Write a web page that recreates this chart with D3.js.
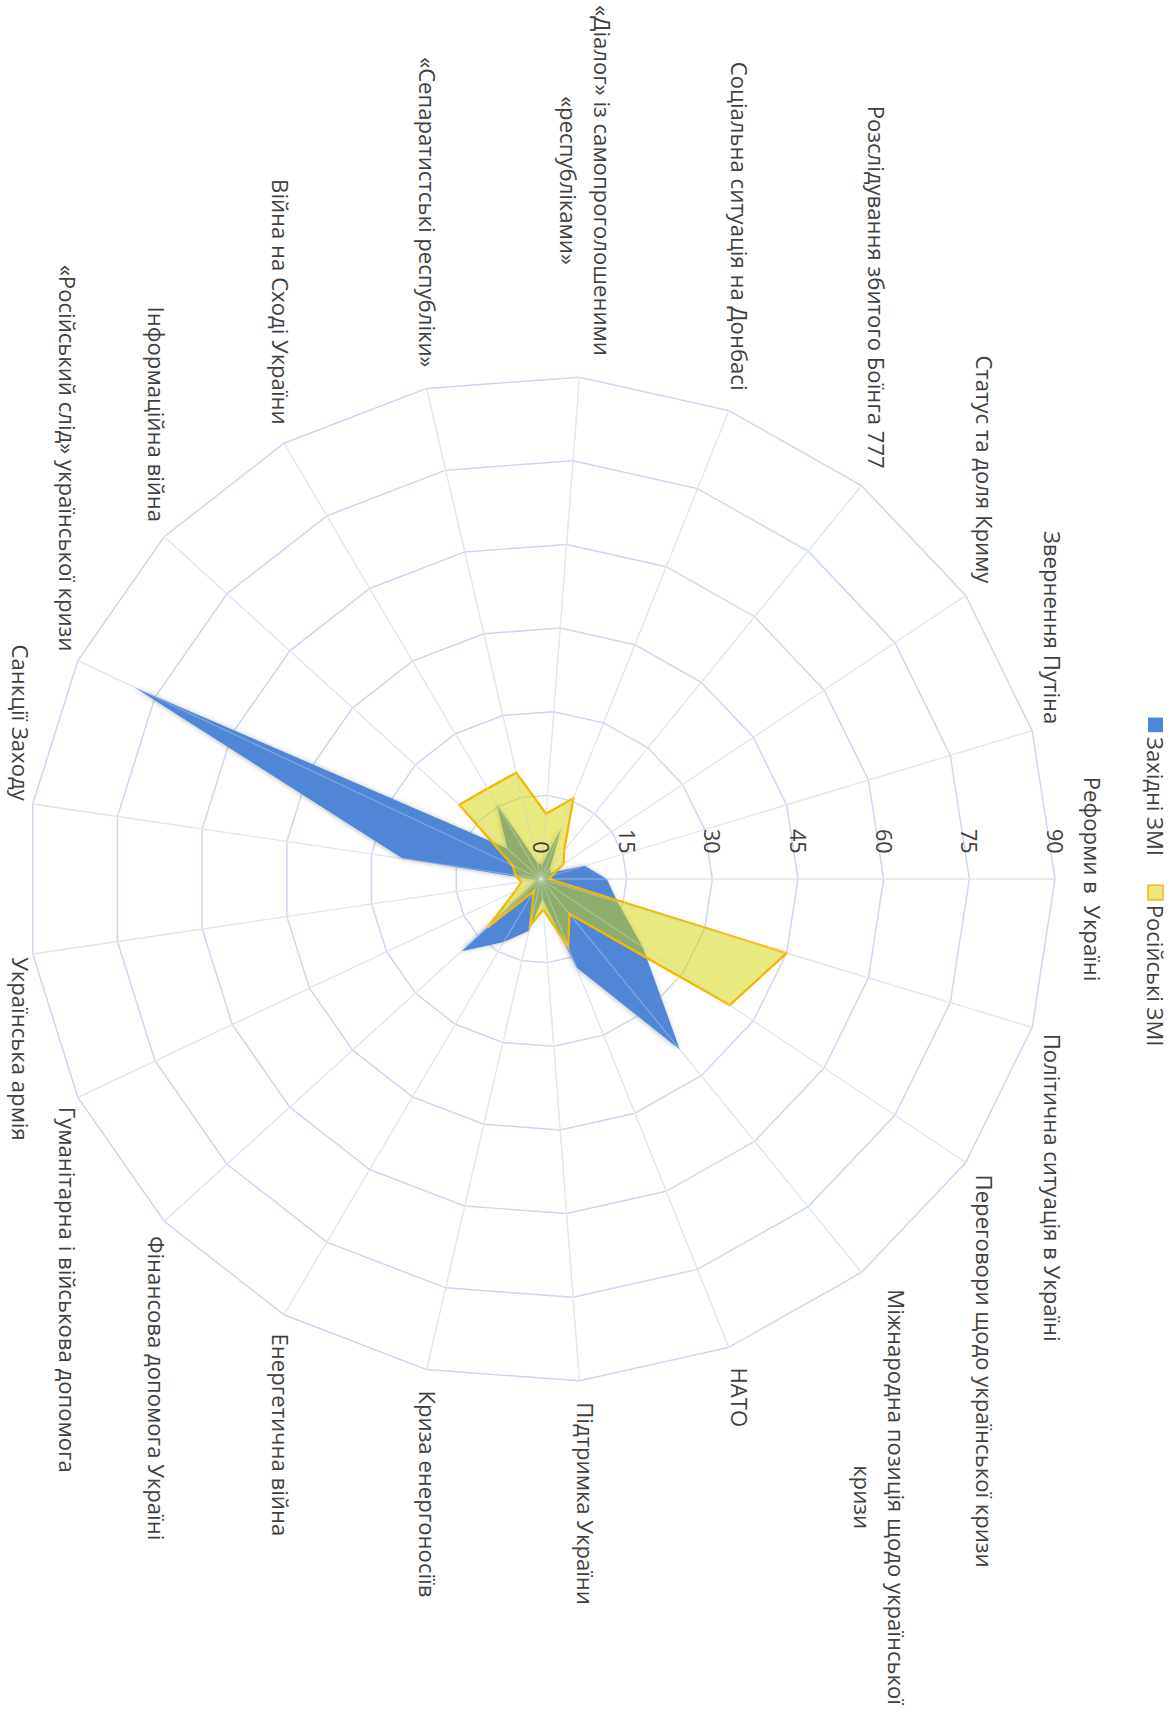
<!DOCTYPE html>
<html>
<head>
<meta charset="utf-8">
<script src="https://cdn.jsdelivr.net/npm/d3@7"></script>
<style>
  html, body { margin: 0; padding: 0; background: #fff; }
  svg text { font-family: 'Open Sans', 'DejaVu Sans', sans-serif; fill: #404040; white-space: pre; }
</style>
</head>
<body>
<div id="chart"></div>
<script>
// categories (multi-line labels are split into lines)
let categories = [
  ['Реформи в  Україні'],
  ['Політична ситуація в Україні'],
  ['Переговори щодо української кризи'],
  ['Міжнародна позиція щодо української', 'кризи'],
  ['НАТО'],
  ['Підтримка України'],
  ['Криза енергоносіїв'],
  ['Енергетична війна'],
  ['Фінансова допомога Україні'],
  ['Гуманітарна і військова допомога'],
  ['Українська армія'],
  ['Санкції Заходу'],
  ['«Російський слід» української кризи'],
  ['Інформаційна війна'],
  ['Війна на Сході України'],
  ['«Сепаратистські республіки»'],
  ['«Діалог» із самопроголошеними', '«республіками»'],
  ['Соціальна ситуація на Донбасі'],
  ['Розслідування збитого Боїнга 777'],
  ['Статус та доля Криму'],
  ['Звернення Путіна']
]

let westernMedia = [11.5, 14, 21.5, 39, 17, 3.5, 9.5, 13, 19, 1, 1, 24.5, 79, 8, 15.5, 3, 2.5, 10, 2.5, 2, 8]
let russianMedia = [1.5, 45, 40, 8, 13, 5.5, 8.5, 2.5, 12.8, 5, 3.5, 4.5, 5.5, 19.5, 18.7, 19.5, 11.7, 15.5, 6.5, 4.8, 2]

let ticks = [0, 15, 30, 45, 60, 75, 90]
let seriesNames = ['Західні ЗМІ', 'Російські ЗМІ']

let width = 1176
let height = 1719
let center = { x: 541, y: 879 }
let outer = 514
let squash = 0.979 // the picture is a bit flatter along its long side
let fontSize = 22.6
let lineHeight = 34

let svg = d3.select('#chart')
  .append('svg')
  .attr('width', width)
  .attr('height', height)

let defs = svg.append('defs')
defs.append('filter')
  .attr('id', 'shadow')
  .attr('x', '-20%').attr('y', '-20%')
  .attr('width', '140%').attr('height', '140%')
  .append('feDropShadow')
  .attr('dx', 0).attr('dy', 1)
  .attr('stdDeviation', 2.5)
  .attr('flood-color', '#000')
  .attr('flood-opacity', 0.3)

svg.append('rect').attr('width', width).attr('height', height).attr('fill', '#fff')

// whole chart is turned a quarter clockwise
let g = svg.append('g')
  .attr('transform', 'translate(' + center.x + ',' + center.y + ') scale(1,' + squash + ') rotate(90)')

let n = categories.length
let angle = d3.scaleLinear().domain([0, n]).range([0, 2 * Math.PI])
let r = d3.scaleLinear().domain([0, 90]).range([0, outer])

let radial = d3.lineRadial()
  .angle((d, i) => angle(i))
  .radius((d) => r(d))
  .curve(d3.curveLinearClosed)

// grid rings
g.selectAll('.ring')
  .data(ticks.slice(1))
  .enter().append('path')
  .attr('class', 'ring')
  .attr('d', (t) => radial(d3.range(n).map(() => t)))
  .attr('fill', 'none')
  .attr('stroke', '#ccd6ef')
  .attr('stroke-width', 1.5)

// spokes
let spoke = (sel, color, op) => sel.selectAll(null)
  .data(d3.range(n))
  .enter().append('line')
  .attr('x1', 0).attr('y1', 0)
  .attr('x2', (i) => r(90) * Math.sin(angle(i)))
  .attr('y2', (i) => -r(90) * Math.cos(angle(i)))
  .attr('stroke', color)
  .attr('stroke-width', 1.3)
  .attr('opacity', op)

spoke(g.append('g'), '#dbe2f3', 1)

// series
g.append('path')
  .attr('d', radial(westernMedia))
  .attr('fill', '#4f86d6')
  .attr('filter', 'url(#shadow)')

g.append('path')
  .attr('d', radial(russianMedia))
  .attr('fill', '#d2d600')
  .attr('fill-opacity', 0.5)
  .attr('stroke', '#f2b700')
  .attr('stroke-width', 2.3)
  .attr('stroke-linejoin', 'miter')

spoke(g.append('g'), '#e8ecf7', 0.3)

// value labels along the first spoke
g.selectAll('.tick')
  .data(ticks)
  .enter().append('text')
  .attr('class', 'tick')
  .attr('x', -26)
  .attr('y', (t) => -r(t) + 8)
  .attr('text-anchor', 'end')
  .style('font-size', '22px')
  .text((t) => t)

// category labels: box pushed outward, lines centred inside the box
categories.forEach((lines, i) => {
  let a = angle(i)
  let s = Math.sin(a)
  let c = Math.cos(a)
  let px = r(90) * s
  let py = -r(90) * c
  let side = Math.abs(s) < 0.05 ? 0 : (s > 0 ? 1 : -1)
  let tx = px + s * 22
  let push = 17 + (lines.length - 1) * 4 + (side === 0 ? 16 : 0)
  let midY = py - c * push - 4

  let label = g.append('text')
    .attr('text-anchor', 'middle')
    .style('font-size', fontSize + 'px')
  let spans = lines.map((line, k) => label.append('tspan')
    .attr('y', midY + (k - (lines.length - 1) / 2) * lineHeight + 8)
    .text(line))
  let boxW = d3.max(spans, (sp) => sp.node().getComputedTextLength())
  let cxBox = tx + side * boxW / 2
  spans.forEach((sp) => sp.attr('x', cxBox))
})

// legend
let legend = g.append('g')
let legendY = -614.5
let items = legend.selectAll('.item')
  .data(seriesNames)
  .enter().append('g')
  .attr('class', 'item')

items.append('rect')
  .attr('y', legendY - 7.5)
  .attr('width', 15)
  .attr('height', 15)
  .attr('fill', (d, i) => i === 0 ? '#4f86d6' : '#d2d600')
  .attr('fill-opacity', (d, i) => i === 0 ? 1 : 0.5)
  .attr('stroke', (d, i) => i === 0 ? 'none' : '#f2b700')
  .attr('stroke-width', 1.5)

items.append('text')
  .attr('x', 20)
  .attr('y', legendY + 8)
  .style('font-size', '22.5px')
  .text((d) => d)

let widths = []
items.each(function () {
  widths.push(20 + d3.select(this).select('text').node().getComputedTextLength())
})
let total = d3.sum(widths) + 30 * (widths.length - 1)
let offset = 3 - total / 2
items.attr('transform', (d, i) => {
  let x = offset
  offset += widths[i] + 30
  return 'translate(' + x + ',0)'
})
</script>
</body>
</html>
